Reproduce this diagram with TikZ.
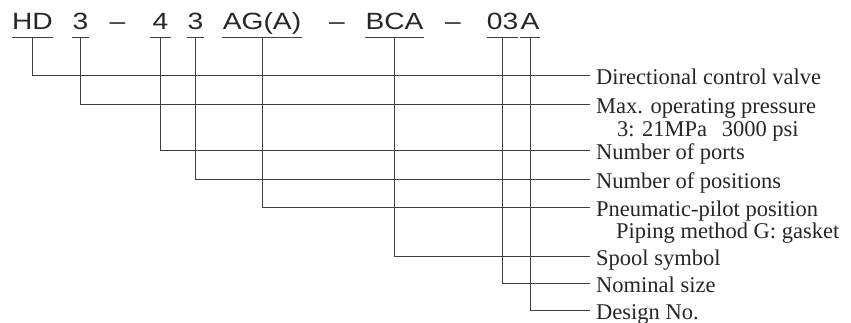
\documentclass[tikz,border=0pt]{standalone}
\usepackage{fontspec}
\usepackage{xcolor}
\newfontfamily\codefont[FakeStretch=1.2]{Liberation Sans}
\newfontfamily\descfont{Liberation Serif}

\begin{document}
\begin{tikzpicture}[x=1pt,y=-1pt,
  code/.style={font=\codefont\fontsize{23.5}{27}\selectfont, text=black!85,
    anchor=south, inner xsep=0pt, inner ysep=8.5pt, text depth=0pt},
  desc/.style={font=\descfont\fontsize{22.5}{26}\selectfont, text=black!85,
    anchor=base west, inner xsep=6pt, inner ysep=0pt, text height=14pt, text depth=5pt},
  subdesc/.style={desc, inner xsep=0pt},
  lead/.style={line width=1pt, draw=black!75}]
  \useasboundingbox (0,0) rectangle (851,323);
  % model code
  \node[code, minimum width=39pt] (hd) at (32.5,38) {HD};
  \node[code, minimum width=17pt] (press) at (80.5,38) {3};
  \node[code] (dasha) at (117.5,38) {–};
  \node[code, minimum width=21pt] (ports) at (160.5,38) {4};
  \node[code, minimum width=17pt] (posn) at (195.5,38) {3};
  \node[code, minimum width=80pt] (pilot) at (262,38) {AG(A)};
  \node[code] (dashb) at (337,38) {–};
  \node[code, minimum width=57pt] (spool) at (394.5,38) {BCA};
  \node[code] (dashc) at (453,38) {–};
  \node[code, minimum width=29pt] (size) at (502.5,38) {03};
  \node[code, minimum width=16pt] (design) at (530,38) {A};
  % descriptions (base line 9 below the leader)
  \node[desc] (lhd) at (590,85) {Directional control valve};
  \node[desc] (lpress) at (590,114) {Max. operating pressure};
  \node[subdesc] (lpressval) at (617,137) {3: 21MPa\hspace{9pt} 3000 psi};
  \node[desc] (lports) at (590,160) {Number of ports};
  \node[desc] (lposn) at (590,189) {Number of positions};
  \node[desc] (lpilot) at (590,217) {Pneumatic-pilot position};
  \node[subdesc] (lpiping) at (616,238) {Piping method G: gasket};
  \node[desc] (lspool) at (590,265) {Spool symbol};
  \node[desc] (lsize) at (590,292) {Nominal size};
  \node[desc] (ldesign) at (590,319) {Design No.};
  % underlines and leaders
  \foreach \part/\text in {hd/lhd,press/lpress,ports/lports,posn/lposn,
      pilot/lpilot,spool/lspool,size/lsize,design/ldesign}{
    \draw[lead] (\part.south west) -- (\part.south east);
    \draw[lead] (\part.south) |- ([yshift=9pt]\text.base west);
  }
\end{tikzpicture}
\end{document}
